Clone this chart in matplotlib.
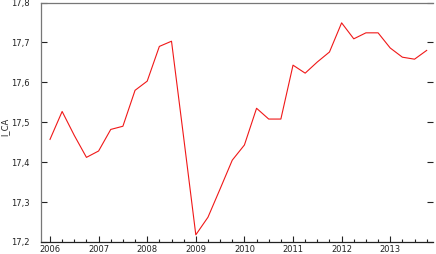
import numpy as np
import matplotlib.pyplot as plt
from matplotlib.ticker import FuncFormatter, MultipleLocator

# quarterly series, 2006Q1 .. 2013Q4
start_year = 2006
l_ca = [17.457, 17.527, 17.467, 17.412, 17.428, 17.482, 17.490, 17.580,
        17.603, 17.690, 17.703, 17.462, 17.218, 17.262, 17.333, 17.405,
        17.443, 17.535, 17.508, 17.508, 17.643, 17.623, 17.651, 17.676,
        17.749, 17.709, 17.724, 17.724, 17.686, 17.663, 17.658, 17.680]
year_ticks = [2006, 2007, 2008, 2009, 2010, 2011, 2012, 2013]
y_ticks = [17.2, 17.3, 17.4, 17.5, 17.6, 17.7, 17.8]

t = start_year + np.arange(len(l_ca)) * 0.25

fig = plt.figure(figsize=(4.36, 2.54), dpi=100)
ax = fig.add_axes([41 / 436, 12 / 254, 392 / 436, 239.5 / 254])

ax.plot(t, l_ca, color="#f01818", linewidth=0.8)

ax.set_xlim(2005.815, 2013.88)
ax.set_ylim(17.2, 17.8)
ax.set_xticks(year_ticks)
ax.set_xticklabels([str(y) for y in year_ticks])
ax.xaxis.set_minor_locator(MultipleLocator(0.25))
ax.set_yticks(y_ticks)
ax.yaxis.set_major_formatter(FuncFormatter(lambda v, p: f"{v:.1f}".replace(".", ",")))

ax.spines["right"].set_visible(False)
ax.spines["left"].set_color("#777777")
ax.spines["top"].set_color("#777777")
ax.spines["bottom"].set_color("#222222")
for s in ax.spines.values():
    s.set_linewidth(0.9)

ax.tick_params(axis="x", which="major", direction="in", length=4, width=0.8,
               pad=2.5, labelsize=6, colors="#222222", top=False)
ax.tick_params(axis="x", which="minor", direction="in", length=2, width=0.8,
               colors="#222222", top=False)
ax.tick_params(axis="y", which="major", direction="in", length=4, width=0.8,
               pad=8, labelsize=6, colors="#222222", left=True, right=True)

fig.text(5 / 436, 0.5, "l_CA", rotation=90, fontsize=6, color="#222222",
         ha="center", va="center")

fig.savefig("out.png", dpi=100)
